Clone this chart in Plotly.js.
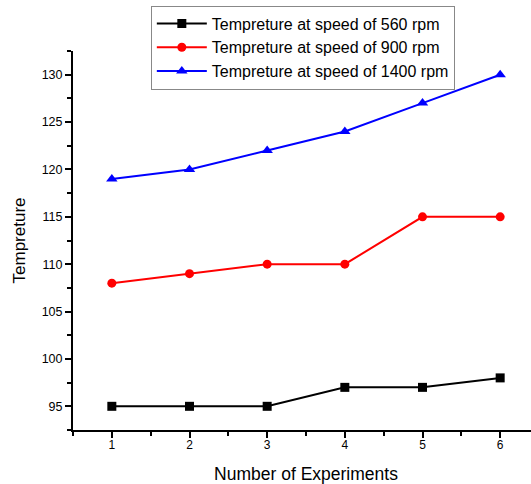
<!DOCTYPE html>
<html><head><meta charset="utf-8">
<script src="https://cdn.plot.ly/plotly-3.0.1.min.js"></script>
<style>html,body{margin:0;padding:0;overflow:hidden;background:#fff}</style>
</head><body><div id="chart"></div>
<script>
const experiments = [1, 2, 3, 4, 5, 6];
const temp560 = [95, 95, 95, 97, 97, 98];
const temp900 = [108, 109, 110, 110, 115, 115];
const temp1400 = [119, 120, 122, 124, 127, 130];
const seriesNames = ["Tempreture at speed of 560 rpm", "Tempreture at speed of 900 rpm", "Tempreture at speed of 1400 rpm"];

const font = "Liberation Sans, Arial, sans-serif";
const traces = [
  {x: experiments, y: temp560, name: seriesNames[0], mode: "lines+markers",
   line: {color: "#000000", width: 2}, marker: {symbol: "square", size: 9, color: "#000000"}},
  {x: experiments, y: temp900, name: seriesNames[1], mode: "lines+markers",
   line: {color: "#ff0000", width: 2}, marker: {symbol: "circle", size: 9, color: "#ff0000"}},
  {x: experiments, y: temp1400, name: seriesNames[2], mode: "lines+markers",
   line: {color: "#0000ff", width: 2}, marker: {symbol: "triangle-up", size: 10, color: "#0000ff"}}
];
const layout = {
  width: 540, height: 484,
  margin: {l: 73, r: 1, t: 51, b: 54},
  paper_bgcolor: "#fff", plot_bgcolor: "#fff",
  font: {family: font, color: "#000"},
  showlegend: true,
  legend: {x: 0.167, y: 1.12, xanchor: "left", yanchor: "top",
    bordercolor: "#888", borderwidth: 1, bgcolor: "#fff",
    font: {family: font, size: 16, color: "#000"}, tracegroupgap: 0, itemwidth: 50},
  xaxis: {range: [0.5, 6.5], tickvals: experiments, ticktext: experiments.map(String),
    showgrid: false, zeroline: false, showline: true, linecolor: "#000", linewidth: 2,
    ticks: "outside", ticklen: 6, tickwidth: 2, tickcolor: "#000", ticklabelstandoff: -3,
    minor: {ticks: "outside", dtick: 0.5, tick0: 0.5, ticklen: 4, tickwidth: 2, tickcolor: "#000", showgrid: false},
    tickfont: {family: font, size: 12},
    title: {text: "Number of Experiments", font: {family: font, size: 17.5}, standoff: 16}},
  yaxis: {range: [92.5, 132.5], tickvals: [95, 100, 105, 110, 115, 120, 125, 130],
    showgrid: false, zeroline: false, showline: true, linecolor: "#000", linewidth: 2,
    ticks: "outside", ticklen: 6, tickwidth: 2, tickcolor: "#000",
    minor: {ticks: "outside", dtick: 2.5, tick0: 92.5, ticklen: 4, tickwidth: 2, tickcolor: "#000", showgrid: false},
    tickfont: {family: font, size: 12.5},
    title: {text: "Tempreture", font: {family: font, size: 17}, standoff: 12}}
};
Plotly.newPlot("chart", traces, layout, {displayModeBar: false, staticPlot: true});
</script></body></html>
